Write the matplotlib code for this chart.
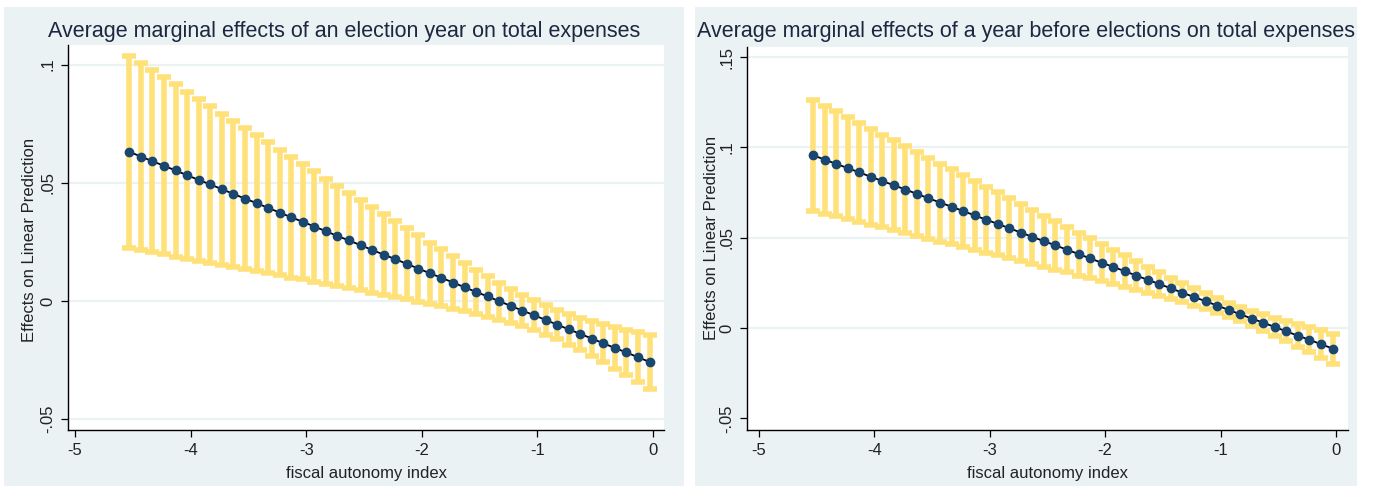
import matplotlib
matplotlib.use('Agg')
import numpy as np
import matplotlib.pyplot as plt
from matplotlib.patches import Rectangle

plt.rcParams['font.family'] = ['Liberation Sans', 'DejaVu Sans']

# fiscal autonomy index grid (same for both panels)
fai = [-4.53, -4.43, -4.33, -4.23, -4.13, -4.03, -3.93, -3.83, -3.73, -3.63,
       -3.53, -3.43, -3.33, -3.23, -3.13, -3.03, -2.93, -2.83, -2.73, -2.63,
       -2.53, -2.43, -2.33, -2.23, -2.13, -2.03, -1.93, -1.83, -1.73, -1.63,
       -1.53, -1.43, -1.33, -1.23, -1.13, -1.03, -0.93, -0.83, -0.73, -0.63,
       -0.53, -0.43, -0.33, -0.23, -0.13, -0.03]

# panel 1: election year
elec_me = [0.0631, 0.0611, 0.0591, 0.0572, 0.0552, 0.0532, 0.0512, 0.0493, 0.0473, 0.0453,
           0.0433, 0.0414, 0.0394, 0.0374, 0.0354, 0.0335, 0.0315, 0.0295, 0.0275, 0.0256,
           0.0236, 0.0216, 0.0196, 0.0177, 0.0157, 0.0137, 0.0117, 0.0098, 0.0078, 0.0058,
           0.0038, 0.0019, -0.0001, -0.0021, -0.0041, -0.0060, -0.0080, -0.0100, -0.0120, -0.0139,
           -0.0159, -0.0179, -0.0199, -0.0218, -0.0238, -0.0258]
elec_hi = [0.1038, 0.1007, 0.0976, 0.0947, 0.0916, 0.0885, 0.0854, 0.0824, 0.0793, 0.0762,
           0.0731, 0.0701, 0.0671, 0.0640, 0.0609, 0.0579, 0.0549, 0.0518, 0.0487, 0.0458,
           0.0427, 0.0397, 0.0366, 0.0337, 0.0307, 0.0277, 0.0247, 0.0218, 0.0189, 0.0160,
           0.0131, 0.0104, 0.0077, 0.0051, 0.0026, 0.0004, -0.0018, -0.0037, -0.0055, -0.0070,
           -0.0085, -0.0098, -0.0110, -0.0121, -0.0132, -0.0143]
elec_lo = [0.0224, 0.0215, 0.0206, 0.0197, 0.0188, 0.0179, 0.0170, 0.0162, 0.0153, 0.0144,
           0.0135, 0.0127, 0.0117, 0.0108, 0.0099, 0.0091, 0.0081, 0.0072, 0.0063, 0.0054,
           0.0045, 0.0035, 0.0026, 0.0017, 0.0007, -0.0003, -0.0013, -0.0022, -0.0033, -0.0044,
           -0.0055, -0.0066, -0.0079, -0.0093, -0.0108, -0.0124, -0.0142, -0.0163, -0.0185, -0.0208,
           -0.0233, -0.0260, -0.0288, -0.0315, -0.0344, -0.0373]

# panel 2: year before elections
pre_me = [0.0957, 0.0933, 0.0909, 0.0886, 0.0862, 0.0838, 0.0814, 0.0791, 0.0767, 0.0743,
          0.0719, 0.0695, 0.0672, 0.0648, 0.0624, 0.0600, 0.0577, 0.0553, 0.0529, 0.0505,
          0.0481, 0.0458, 0.0434, 0.0410, 0.0386, 0.0362, 0.0339, 0.0315, 0.0291, 0.0267,
          0.0244, 0.0220, 0.0196, 0.0172, 0.0149, 0.0125, 0.0101, 0.0077, 0.0053, 0.0030,
          0.0006, -0.0018, -0.0042, -0.0065, -0.0089, -0.0113]
pre_hi = [0.1264, 0.1232, 0.1199, 0.1168, 0.1136, 0.1104, 0.1071, 0.1040, 0.1008, 0.0975,
          0.0943, 0.0911, 0.0880, 0.0847, 0.0815, 0.0783, 0.0752, 0.0720, 0.0688, 0.0656,
          0.0623, 0.0592, 0.0560, 0.0529, 0.0497, 0.0465, 0.0434, 0.0403, 0.0371, 0.0340,
          0.0310, 0.0280, 0.0250, 0.0221, 0.0193, 0.0167, 0.0141, 0.0117, 0.0095, 0.0076,
          0.0057, 0.0038, 0.0020, 0.0004, -0.0013, -0.0030]
pre_lo = [0.0650, 0.0634, 0.0619, 0.0604, 0.0588, 0.0572, 0.0557, 0.0542, 0.0526, 0.0511,
          0.0495, 0.0479, 0.0464, 0.0449, 0.0433, 0.0417, 0.0402, 0.0386, 0.0370, 0.0354,
          0.0339, 0.0324, 0.0308, 0.0291, 0.0275, 0.0259, 0.0244, 0.0227, 0.0211, 0.0194,
          0.0178, 0.0160, 0.0142, 0.0123, 0.0105, 0.0083, 0.0061, 0.0037, 0.0011, -0.0016,
          -0.0045, -0.0074, -0.0104, -0.0134, -0.0165, -0.0196]

titles = ['Average marginal effects of an election year on total expenses',
          'Average marginal effects of a year before elections on total expenses']
xticks = [-5, -4, -3, -2, -1, 0]
xtick_labels = ['-5', '-4', '-3', '-2', '-1', '0']
yticks1 = [-0.05, 0, 0.05, 0.1]
ytick_labels1 = ['-.05', '0', '.05', '.1']
yticks2 = [-0.05, 0, 0.05, 0.1, 0.15]
ytick_labels2 = ['-.05', '0', '.05', '.1', '.15']

BG = '#EAF2F3'
CI = '#FFE17A'
NAVY = '#1A476F'
W, H = 1374, 486

fig = plt.figure(figsize=(W / 100, H / 100), dpi=100)
fig.patch.set_facecolor('white')

# panel backgrounds (pixel boxes: x0, y0, x1, y1 from top-left)
for x0, y0, x1, y1 in [(4, 7, 684, 486), (695, 7, 1357, 486)]:
    fig.patches.append(Rectangle((x0 / W, 1 - y1 / H), (x1 - x0) / W, (y1 - y0) / H,
                                 transform=fig.transFigure, facecolor=BG,
                                 edgecolor='none', zorder=-10))

def ax_box(x0, y0, x1, y1):
    return [x0 / W, 1 - y1 / H, (x1 - x0) / W, (y1 - y0) / H]

ax1 = fig.add_axes(ax_box(68, 45, 664, 430))
ax2 = fig.add_axes(ax_box(747, 47, 1348, 430))

panels = [
    (ax1, elec_me, elec_lo, elec_hi, (-5.061, 0.095), (-0.0546, 0.1083), yticks1, ytick_labels1),
    (ax2, pre_me, pre_lo, pre_hi, (-5.102, 0.104), (-0.0564, 0.1556), yticks2, ytick_labels2),
]

for ax, me, lo, hi, xl, yl, yt, ytl in panels:
    me = np.array(me)
    err = [me - np.array(lo), np.array(hi) - me]
    ax.set_facecolor('white')
    for yv in yt:
        if yv > -0.04 or ax is ax1:
            ax.axhline(yv, color=BG, lw=1.6, zorder=0)
    ax.errorbar(fai, me, yerr=err, fmt='none', ecolor=CI, elinewidth=4.0,
                capsize=5.0, capthick=4.0, zorder=2)
    ax.plot(fai, me, color='black', lw=1.3, zorder=3)
    ax.plot(fai, me, 'o', color=NAVY, ms=6.0, mec=NAVY, zorder=4)
    ax.set_xlim(*xl)
    ax.set_ylim(*yl)
    ax.set_xticks(xticks)
    ax.set_xticklabels(xtick_labels)
    ax.set_yticks(yt)
    ax.set_yticklabels(ytl, rotation=90, va='center')
    for s in ['top', 'right']:
        ax.spines[s].set_visible(False)
    for s in ['left', 'bottom']:
        ax.spines[s].set_color('black')
        ax.spines[s].set_linewidth(1.0)
    ax.tick_params(axis='both', colors='black', labelsize=12, length=5, width=0.9,
                   labelcolor='#222222', pad=4)
    ax.set_xlabel('fiscal autonomy index', fontsize=12, color='#222222', labelpad=6)

fig.text(30 / W, 1 - 240 / H, 'Effects on Linear Prediction', rotation=90,
         ha='center', va='center', fontsize=12, color='#222222')
fig.text(711 / W, 1 - 238 / H, 'Effects on Linear Prediction', rotation=90,
         ha='center', va='center', fontsize=12, color='#222222')

fig.text(344 / W, 1 - 32 / H, titles[0], ha='center', va='center', fontsize=15.5,
         color='#1C2740')
fig.text(1026 / W, 1 - 32 / H, titles[1], ha='center', va='center', fontsize=15.5,
         color='#1C2740')

fig.savefig('out.png', dpi=100, facecolor='white')
